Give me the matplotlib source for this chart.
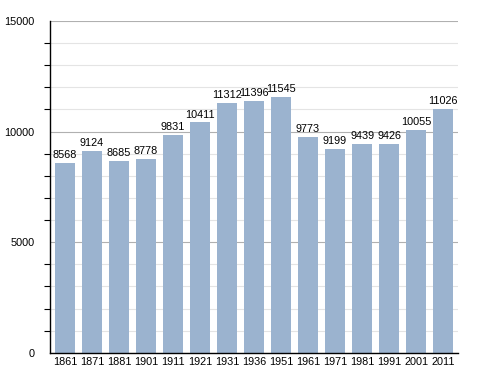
import numpy as np
import matplotlib.pyplot as plt
from matplotlib.ticker import MultipleLocator

years = ['1861', '1871', '1881', '1901', '1911', '1921', '1931', '1936',
         '1951', '1961', '1971', '1981', '1991', '2001', '2011']
population = [8568, 9124, 8685, 8778, 9831, 10411, 11312, 11396,
              11545, 9773, 9199, 9439, 9426, 10055, 11026]

plt.rcParams['font.family'] = 'Liberation Sans'

fig = plt.figure(figsize=(4.88, 3.73), dpi=100)
ax = fig.add_axes([0.1025, 0.054, 0.836, 0.89])

x = np.arange(len(years))
ax.bar(x, population, width=0.74, color='#9bb3cf', zorder=2)

for xi, v in zip(x, population):
    ax.text(xi, v + 130, str(v), ha='center', va='bottom', fontsize=7.8, zorder=3)

ax.set_xlim(-0.55, len(years) - 0.45)
ax.set_ylim(0, 15000)
ax.set_xticks(x)
ax.set_xticklabels(years, fontsize=7.8)
ax.set_yticks([0, 5000, 10000, 15000])
ax.set_yticklabels(['0', '5000', '10000', '15000'], fontsize=7.8)
ax.yaxis.set_minor_locator(MultipleLocator(1000))

# light grid every 1000, darker every 5000
ax.grid(axis='y', which='minor', color='#e4e4e4', linewidth=0.8, zorder=0)
ax.grid(axis='y', which='major', color='#b0b0b0', linewidth=0.8, zorder=1)

ax.tick_params(axis='x', length=0, pad=3)
ax.tick_params(axis='y', which='major', length=0, pad=11)
ax.tick_params(axis='y', which='minor', length=4, width=0.8)

for side in ['top', 'right']:
    ax.spines[side].set_visible(False)
ax.spines['left'].set_linewidth(1.0)
ax.spines['bottom'].set_linewidth(1.0)

fig.savefig('out.png', dpi=100)
